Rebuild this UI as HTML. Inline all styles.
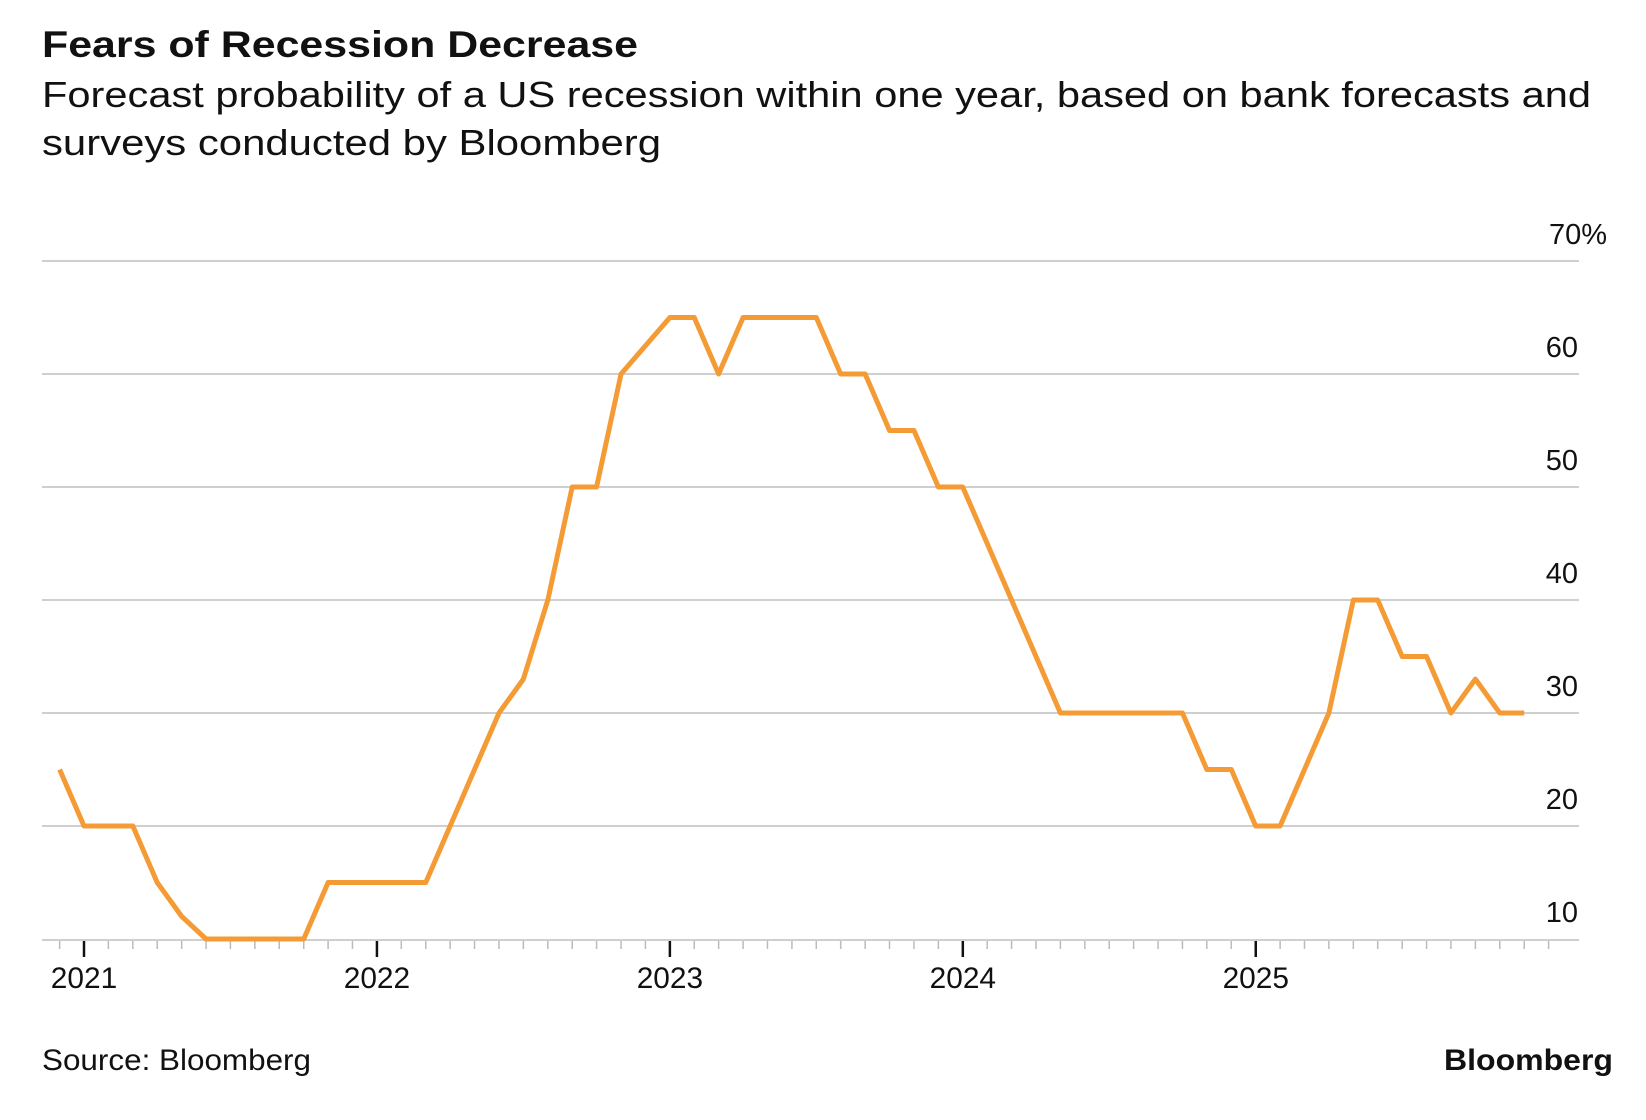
<!DOCTYPE html>
<html><head><meta charset="utf-8"><style>
html,body{margin:0;padding:0;background:#fff;}
svg{display:block;}
text{font-family:"Liberation Sans",Arial,sans-serif;fill:#111;}
</style></head><body>
<svg width="1646" height="1120" viewBox="0 0 1646 1120" xmlns="http://www.w3.org/2000/svg">
<rect width="1646" height="1120" fill="#fff"/>
<text x="42" y="57" font-size="37" font-weight="bold" textLength="596" lengthAdjust="spacingAndGlyphs">Fears of Recession Decrease</text>
<text x="42" y="107" font-size="36" textLength="1549" lengthAdjust="spacingAndGlyphs">Forecast probability of a US recession within one year, based on bank forecasts and</text>
<text x="42" y="155" font-size="36" textLength="619" lengthAdjust="spacingAndGlyphs">surveys conducted by Bloomberg</text>
<g stroke="#cfcfcf" stroke-width="2">
<line x1="42" x2="1579" y1="261" y2="261"/>
<line x1="42" x2="1579" y1="374" y2="374"/>
<line x1="42" x2="1579" y1="487" y2="487"/>
<line x1="42" x2="1579" y1="600" y2="600"/>
<line x1="42" x2="1579" y1="713" y2="713"/>
<line x1="42" x2="1579" y1="826" y2="826"/>
<line x1="42" x2="1579" y1="940" y2="940"/>
</g>
<g font-size="29" text-anchor="end">
<text x="1607" y="244">70%</text>
<text x="1578" y="357">60</text>
<text x="1578" y="470">50</text>
<text x="1578" y="583">40</text>
<text x="1578" y="696">30</text>
<text x="1578" y="809">20</text>
<text x="1578" y="922">10</text>
</g>
<g transform="translate(84,0) scale(0.9947,1) translate(-84,0)">
<g stroke="#111" stroke-width="2.5">
<line x1="84" x2="84" y1="941" y2="957"/>
<line x1="378.5" x2="378.5" y1="941" y2="957"/>
<line x1="673" x2="673" y1="941" y2="957"/>
<line x1="967.5" x2="967.5" y1="941" y2="957"/>
<line x1="1262" x2="1262" y1="941" y2="957"/>
</g>
<g font-size="30" text-anchor="middle">
<text x="84" y="988">2021</text>
<text x="378.5" y="988">2022</text>
<text x="673" y="988">2023</text>
<text x="967.5" y="988">2024</text>
<text x="1262" y="988">2025</text>
</g>
<g stroke="#bbb" stroke-width="1.5">
<line x1="59.5" x2="59.5" y1="941" y2="949"/><line x1="108.5" x2="108.5" y1="941" y2="949"/><line x1="133.1" x2="133.1" y1="941" y2="949"/><line x1="157.6" x2="157.6" y1="941" y2="949"/><line x1="182.2" x2="182.2" y1="941" y2="949"/><line x1="206.7" x2="206.7" y1="941" y2="949"/><line x1="231.2" x2="231.2" y1="941" y2="949"/><line x1="255.8" x2="255.8" y1="941" y2="949"/><line x1="280.3" x2="280.3" y1="941" y2="949"/><line x1="304.9" x2="304.9" y1="941" y2="949"/><line x1="329.4" x2="329.4" y1="941" y2="949"/><line x1="353.9" x2="353.9" y1="941" y2="949"/>
<line x1="403" x2="403" y1="941" y2="949"/><line x1="427.6" x2="427.6" y1="941" y2="949"/><line x1="452.1" x2="452.1" y1="941" y2="949"/><line x1="476.6" x2="476.6" y1="941" y2="949"/><line x1="501.2" x2="501.2" y1="941" y2="949"/><line x1="525.7" x2="525.7" y1="941" y2="949"/><line x1="550.3" x2="550.3" y1="941" y2="949"/><line x1="574.8" x2="574.8" y1="941" y2="949"/><line x1="599.3" x2="599.3" y1="941" y2="949"/><line x1="623.9" x2="623.9" y1="941" y2="949"/><line x1="648.4" x2="648.4" y1="941" y2="949"/>
<line x1="697.5" x2="697.5" y1="941" y2="949"/><line x1="722" x2="722" y1="941" y2="949"/><line x1="746.6" x2="746.6" y1="941" y2="949"/><line x1="771.1" x2="771.1" y1="941" y2="949"/><line x1="795.7" x2="795.7" y1="941" y2="949"/><line x1="820.2" x2="820.2" y1="941" y2="949"/><line x1="844.7" x2="844.7" y1="941" y2="949"/><line x1="869.3" x2="869.3" y1="941" y2="949"/><line x1="893.8" x2="893.8" y1="941" y2="949"/><line x1="918.4" x2="918.4" y1="941" y2="949"/><line x1="942.9" x2="942.9" y1="941" y2="949"/>
<line x1="992" x2="992" y1="941" y2="949"/><line x1="1016.5" x2="1016.5" y1="941" y2="949"/><line x1="1041.1" x2="1041.1" y1="941" y2="949"/><line x1="1065.6" x2="1065.6" y1="941" y2="949"/><line x1="1090.2" x2="1090.2" y1="941" y2="949"/><line x1="1114.7" x2="1114.7" y1="941" y2="949"/><line x1="1139.2" x2="1139.2" y1="941" y2="949"/><line x1="1163.8" x2="1163.8" y1="941" y2="949"/><line x1="1188.3" x2="1188.3" y1="941" y2="949"/><line x1="1212.8" x2="1212.8" y1="941" y2="949"/><line x1="1237.4" x2="1237.4" y1="941" y2="949"/>
<line x1="1286.5" x2="1286.5" y1="941" y2="949"/><line x1="1311" x2="1311" y1="941" y2="949"/><line x1="1335.5" x2="1335.5" y1="941" y2="949"/><line x1="1360.1" x2="1360.1" y1="941" y2="949"/><line x1="1384.6" x2="1384.6" y1="941" y2="949"/><line x1="1409.2" x2="1409.2" y1="941" y2="949"/><line x1="1433.7" x2="1433.7" y1="941" y2="949"/><line x1="1458.2" x2="1458.2" y1="941" y2="949"/><line x1="1482.8" x2="1482.8" y1="941" y2="949"/><line x1="1507.3" x2="1507.3" y1="941" y2="949"/><line x1="1531.9" x2="1531.9" y1="941" y2="949"/><line x1="1556.4" x2="1556.4" y1="941" y2="949"/>
</g>
<polyline fill="none" stroke="#f59b35" stroke-width="5" stroke-linejoin="round" points="59.5,769.5 84,826 133.1,826 157.6,882.5 182.2,916.4 206.7,939 304.9,939 329.4,882.5 427.6,882.5 452.1,826 476.6,769.5 501.2,713 525.7,679.1 550.3,600 574.8,487 599.3,487 623.9,374 673,317.5 697.5,317.5 722,374 746.6,317.5 820.2,317.5 844.7,374 869.3,374 893.8,430.5 918.4,430.5 942.9,487 967.4,487 992,543.5 1016.5,600 1041.1,656.5 1065.6,713 1188.3,713 1212.8,769.5 1237.4,769.5 1261.9,826 1286.5,826 1311,769.5 1335.5,713 1360.1,600 1384.6,600 1409.2,656.5 1433.7,656.5 1458.2,713 1482.8,679.1 1507.3,713 1531.9,713"/>
</g>
<text x="42" y="1070" font-size="30" textLength="269" lengthAdjust="spacingAndGlyphs">Source: Bloomberg</text>
<text x="1613" y="1070" font-size="30" font-weight="bold" text-anchor="end" textLength="169" lengthAdjust="spacingAndGlyphs">Bloomberg</text>
</svg>
</body></html>
